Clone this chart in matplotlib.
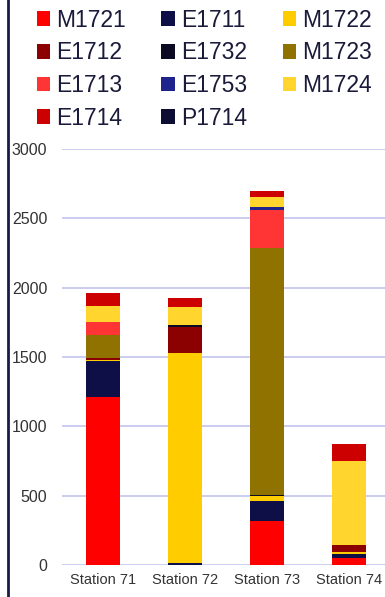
import matplotlib
matplotlib.use("Agg")
import matplotlib.pyplot as plt
from matplotlib.lines import Line2D
from matplotlib.patches import Patch
import numpy as np

plt.rcParams['font.family'] = ['Liberation Sans', 'DejaVu Sans']

stations = ["Station 71", "Station 72", "Station 73", "Station 74"]

# stacked series, bottom to top
M1721 = [1210, 0, 320, 48]
E1711 = [260, 12, 145, 31]
M1722 = [10, 1520, 30, 17]
E1712 = [15, 185, 0, 48]
E1732 = [0, 15, 12, 0]
M1723 = [165, 0, 1780, 0]
E1713 = [90, 0, 275, 0]
E1753 = [0, 0, 20, 0]
M1724 = [115, 130, 75, 608]
E1714 = [95, 65, 40, 120]
P1714 = [0, 0, 0, 0]

series = [
    ("M1721", M1721, "#ff0000"),
    ("E1711", E1711, "#0f0f48"),
    ("M1722", M1722, "#ffcc00"),
    ("E1712", E1712, "#8b0000"),
    ("E1732", E1732, "#0a0a22"),
    ("M1723", M1723, "#8f7200"),
    ("E1713", E1713, "#ff3535"),
    ("E1753", E1753, "#1f238c"),
    ("M1724", M1724, "#ffd52e"),
    ("E1714", E1714, "#cc0000"),
    ("P1714", P1714, "#0d0d33"),
]

fig = plt.figure(figsize=(3.85, 5.97), dpi=100)
ax = fig.add_axes([62/385, 32/597, 328/385, 416/597])

x = np.arange(len(stations))
bottom = np.zeros(len(stations))
for name, vals, col in series:
    ax.bar(x, vals, width=0.41, bottom=bottom, color=col, zorder=3)
    bottom += np.array(vals)

ax.set_xlim(-0.5, 3.5)
ax.set_ylim(0, 3000)
ax.set_yticks(range(0, 3001, 500))
ax.yaxis.grid(True, color="#c8c8ee", linewidth=1.3, zorder=0)
ax.set_axisbelow(True)
for s in ax.spines.values():
    s.set_visible(False)
ax.tick_params(length=0, labelsize=10.5, colors="#333333")
ax.tick_params(axis="x", pad=6)
ax.tick_params(axis="y", pad=10.5, labelsize=11.5)
ax.set_xticks(x)
ax.set_xticklabels(stations)

# legend filled row by row like the original
order = [0, 3, 6, 9, 1, 4, 7, 10, 2, 5, 8]
handles = [Patch(facecolor=series[i][2], label=series[i][0]) for i in order]
fig.legend(handles=handles, ncol=3, loc="upper left", bbox_to_anchor=(16/385, 1.02),
           frameon=False, fontsize=16.5, handlelength=0.6, handleheight=0.6,
           handletextpad=0.25, columnspacing=1.55, labelspacing=0.42,
           labelcolor="#1a1a3a")

fig.add_artist(Line2D([7.5/385, 7.5/385], [0, 1], color="#1a1a4a", linewidth=2))

fig.savefig("out.png")
